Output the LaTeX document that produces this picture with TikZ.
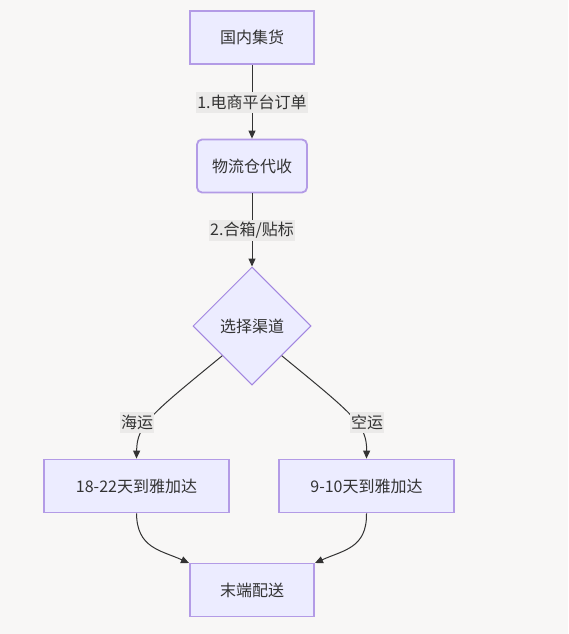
\documentclass[tikz,border=0pt]{standalone}
\usepackage{fontspec}
\setmainfont{Noto Sans CJK SC}
\usetikzlibrary{shapes.geometric,arrows.meta}
\definecolor{bg}{HTML}{F8F7F6}
\definecolor{nodefill}{HTML}{ECECFF}
\definecolor{nodeline}{HTML}{B39BE6}
\definecolor{diamline}{HTML}{A286E0}
\definecolor{edgec}{HTML}{333333}
\definecolor{lblbg}{HTML}{EBEAE9}
\begin{document}
\begin{tikzpicture}[x=1pt,y=-1pt,
  every node/.style={font=\fontsize{16pt}{19pt}\selectfont, text=edgec},
  box/.style={draw=nodeline, fill=nodefill, line width=1.8pt, inner sep=0pt, minimum height=53pt},
  rbox/.style={box, rounded corners=5pt},
  decision/.style={diamond, draw=diamline, fill=nodefill, line width=1pt, inner sep=0pt, minimum width=118pt, minimum height=118pt},
  lbl/.style={fill=lblbg, inner sep=1pt, minimum height=21pt},
  conn/.style={draw=edgec, line width=1pt, -{Triangle[length=8pt,width=7pt]}}
]
\fill[bg] (0,0) rectangle (568,634);
\useasboundingbox (0,0) rectangle (568,634);

\node[box, minimum width=124pt] (a) at (252,37.5) {国内集货};
\node[rbox, minimum width=110pt] (b) at (252,166) {物流仓代收};
\node[decision] (c) at (252,326) {选择渠道};
\node[box, minimum width=185pt] (d) at (136.5,486) {18-22天到雅加达};
\node[box, minimum width=175pt] (e) at (366.5,486) {9-10天到雅加达};
\node[box, minimum width=124pt] (f) at (252,590) {末端配送};

\draw[conn] (a) -- (b);
\draw[conn] (b) -- (c);
\draw[conn] (c.south west) .. controls (150,415) and (137,425) .. (d.north);
\draw[conn] (c.south east) .. controls (354,415) and (367,425) .. (e.north);
\draw[conn] (d.south) .. controls (137,548) and (160,550) .. (189,563);
\draw[conn] (e.south) .. controls (367,548) and (344,550) .. (315,563);

\node[lbl] (l1) at (252,102.5) {1.电商平台订单};
\node[lbl] (l2) at (252,230) {2.合箱/贴标};
\node[lbl] (l3) at (137,422) {海运};
\node[lbl] (l4) at (367,422) {空运};
\end{tikzpicture}
\end{document}
